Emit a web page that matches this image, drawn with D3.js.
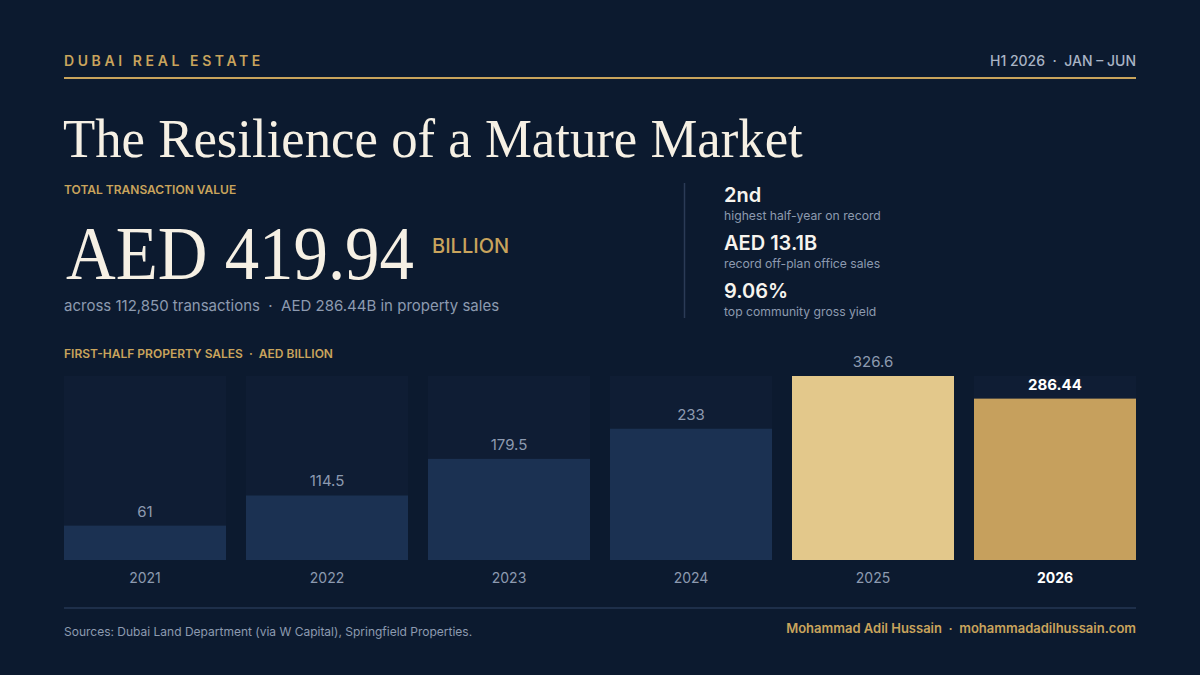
<!DOCTYPE html>
<html>
<head>
<meta charset="utf-8">
<script src="https://cdn.jsdelivr.net/npm/d3@7"></script>
<style>
  html, body { margin: 0; padding: 0; background: #0c1a2f; }
  svg { display: block; }
  text { white-space: pre; }
</style>
</head>
<body>
<div id="chart"></div>
<script>
/* global d3 */

// chart data
const years = ['2021', '2022', '2023', '2024', '2025', '2026'];
const sales = [61, 114.5, 179.5, 233, 326.6, 286.44];
const valueLabels = ['61', '114.5', '179.5', '233', '326.6', '286.44'];

const stats = ['2nd', 'AED 13.1B', '9.06%'];
const statNotes = ['highest half-year on record', 'record off-plan office sales', 'top community gross yield'];

const W = 1200;
const H = 675;
const gold = '#c9a45c';
const grey = '#8d9ab0';
const cream = '#f6f0e4';
const sans = 'Inter, "Noto Sans", sans-serif';
const serif = '"Liberation Serif", "DejaVu Serif", serif';

const svg = d3.select('#chart').append('svg')
  .attr('width', W)
  .attr('height', H)
  .style('font-family', sans);

svg.append('rect').attr('width', W).attr('height', H).attr('fill', '#0c1a2f');

// squeezes a serif display text horizontally to a given width
const displayText = (px, py, size, width, str) => {
  const g = svg.append('g');
  const t = g.append('text')
    .attr('fill', cream)
    .style('font-family', serif)
    .attr('font-size', size)
    .text(str);
  const natural = t.node().getComputedTextLength();
  g.attr('transform', `translate(${px},${py}) scale(${width / natural},1)`);
  return t;
};

// header
svg.append('text')
  .attr('x', 64).attr('y', 66)
  .attr('fill', gold)
  .attr('font-size', 14)
  .attr('font-weight', 600)
  .attr('letter-spacing', 3.6)
  .text('DUBAI REAL ESTATE');

svg.append('text')
  .attr('x', 1136).attr('y', 66)
  .attr('text-anchor', 'end')
  .attr('fill', '#a9b4c5')
  .attr('font-size', 14)
  .attr('font-weight', 500)
  .text('H1 2026  ·  JAN – JUN');

svg.append('line')
  .attr('x1', 64).attr('x2', 1136)
  .attr('y1', 78).attr('y2', 78)
  .attr('stroke', gold).attr('stroke-width', 2);

// title
displayText(63, 157, 54, 740, 'The Resilience of a Mature Market');

// headline figure
svg.append('text')
  .attr('x', 64).attr('y', 194)
  .attr('fill', gold)
  .attr('font-size', 12)
  .attr('font-weight', 600)
  .text('TOTAL TRANSACTION VALUE');

displayText(66, 279, 76, 348, 'AED 419.94');

svg.append('text')
  .attr('x', 432).attr('y', 253)
  .attr('fill', gold)
  .attr('font-size', 20)
  .attr('font-weight', 500)
  .text('BILLION');

svg.append('text')
  .attr('x', 64).attr('y', 311)
  .attr('fill', grey)
  .attr('font-size', 15)
  .text('across 112,850 transactions  ·  AED 286.44B in property sales');

// divider + side stats
svg.append('line')
  .attr('x1', 684.5).attr('x2', 684.5)
  .attr('y1', 183).attr('y2', 318)
  .attr('stroke', '#2b3b56').attr('stroke-width', 1.5);

const statG = svg.append('g').selectAll('g')
  .data(stats)
  .enter()
  .append('g')
  .attr('transform', (d, i) => `translate(724,${202 + i * 48})`);

statG.append('text')
  .attr('fill', '#f7f4ee')
  .attr('font-size', 20)
  .attr('font-weight', 600)
  .text(d => d);

statG.append('text')
  .attr('y', 18)
  .attr('fill', grey)
  .attr('font-size', 12.2)
  .text((d, i) => statNotes[i]);

// bar chart
svg.append('text')
  .attr('x', 64).attr('y', 358)
  .attr('fill', gold)
  .attr('font-size', 12)
  .attr('font-weight', 600)
  .text('FIRST-HALF PROPERTY SALES  ·  AED BILLION');

const x = d3.scaleBand()
  .domain(years)
  .range([64, 1136])
  .paddingInner(20 / 182)
  .paddingOuter(0);

const y = d3.scaleLinear()
  .domain([0, d3.max(sales)])
  .range([560, 376]);

const last = years.length - 1;

const barColor = (d, i) => {
  if (i === last) { return '#c6a05d'; }
  if (i === last - 1) { return '#e3c88b'; }
  return '#1b3152';
};

// background tracks
svg.append('g').selectAll('rect')
  .data(years)
  .enter()
  .append('rect')
  .attr('x', d => x(d))
  .attr('width', x.bandwidth())
  .attr('y', y.range()[1])
  .attr('height', y.range()[0] - y.range()[1])
  .attr('fill', '#0f1d34');

svg.append('g').selectAll('rect')
  .data(sales)
  .enter()
  .append('rect')
  .attr('x', (d, i) => x(years[i]))
  .attr('width', x.bandwidth())
  .attr('y', d => y(d))
  .attr('height', d => y(0) - y(d))
  .attr('fill', barColor);

svg.append('g').selectAll('text')
  .data(sales)
  .enter()
  .append('text')
  .attr('x', (d, i) => x(years[i]) + x.bandwidth() / 2)
  .attr('y', d => y(d) - 9)
  .attr('text-anchor', 'middle')
  .attr('fill', (d, i) => (i === last ? '#ffffff' : grey))
  .attr('font-size', 15)
  .attr('font-weight', (d, i) => (i === last ? 700 : 400))
  .text((d, i) => valueLabels[i]);

const xAxis = svg.append('g')
  .attr('transform', 'translate(0,583)')
  .call(d3.axisBottom(x).tickSize(0).tickPadding(0));

xAxis.select('.domain').remove();
xAxis.selectAll('text')
  .attr('dy', 0)
  .attr('fill', grey)
  .attr('font-size', 14)
  .style('font-family', sans);
xAxis.selectAll('.tick')
  .filter(d => d === years[last])
  .select('text')
  .attr('fill', '#ffffff')
  .attr('font-weight', 700);

// footer
svg.append('line')
  .attr('x1', 64).attr('x2', 1136)
  .attr('y1', 608).attr('y2', 608)
  .attr('stroke', '#243755').attr('stroke-width', 1.5);

svg.append('text')
  .attr('x', 64).attr('y', 636)
  .attr('fill', grey)
  .attr('font-size', 12)
  .text('Sources: Dubai Land Department (via W Capital), Springfield Properties.');

svg.append('text')
  .attr('x', 1136).attr('y', 633)
  .attr('text-anchor', 'end')
  .attr('fill', gold)
  .attr('font-size', 13)
  .attr('font-weight', 600)
  .text('Mohammad Adil Hussain  ·  mohammadadilhussain.com');
</script>
</body>
</html>
